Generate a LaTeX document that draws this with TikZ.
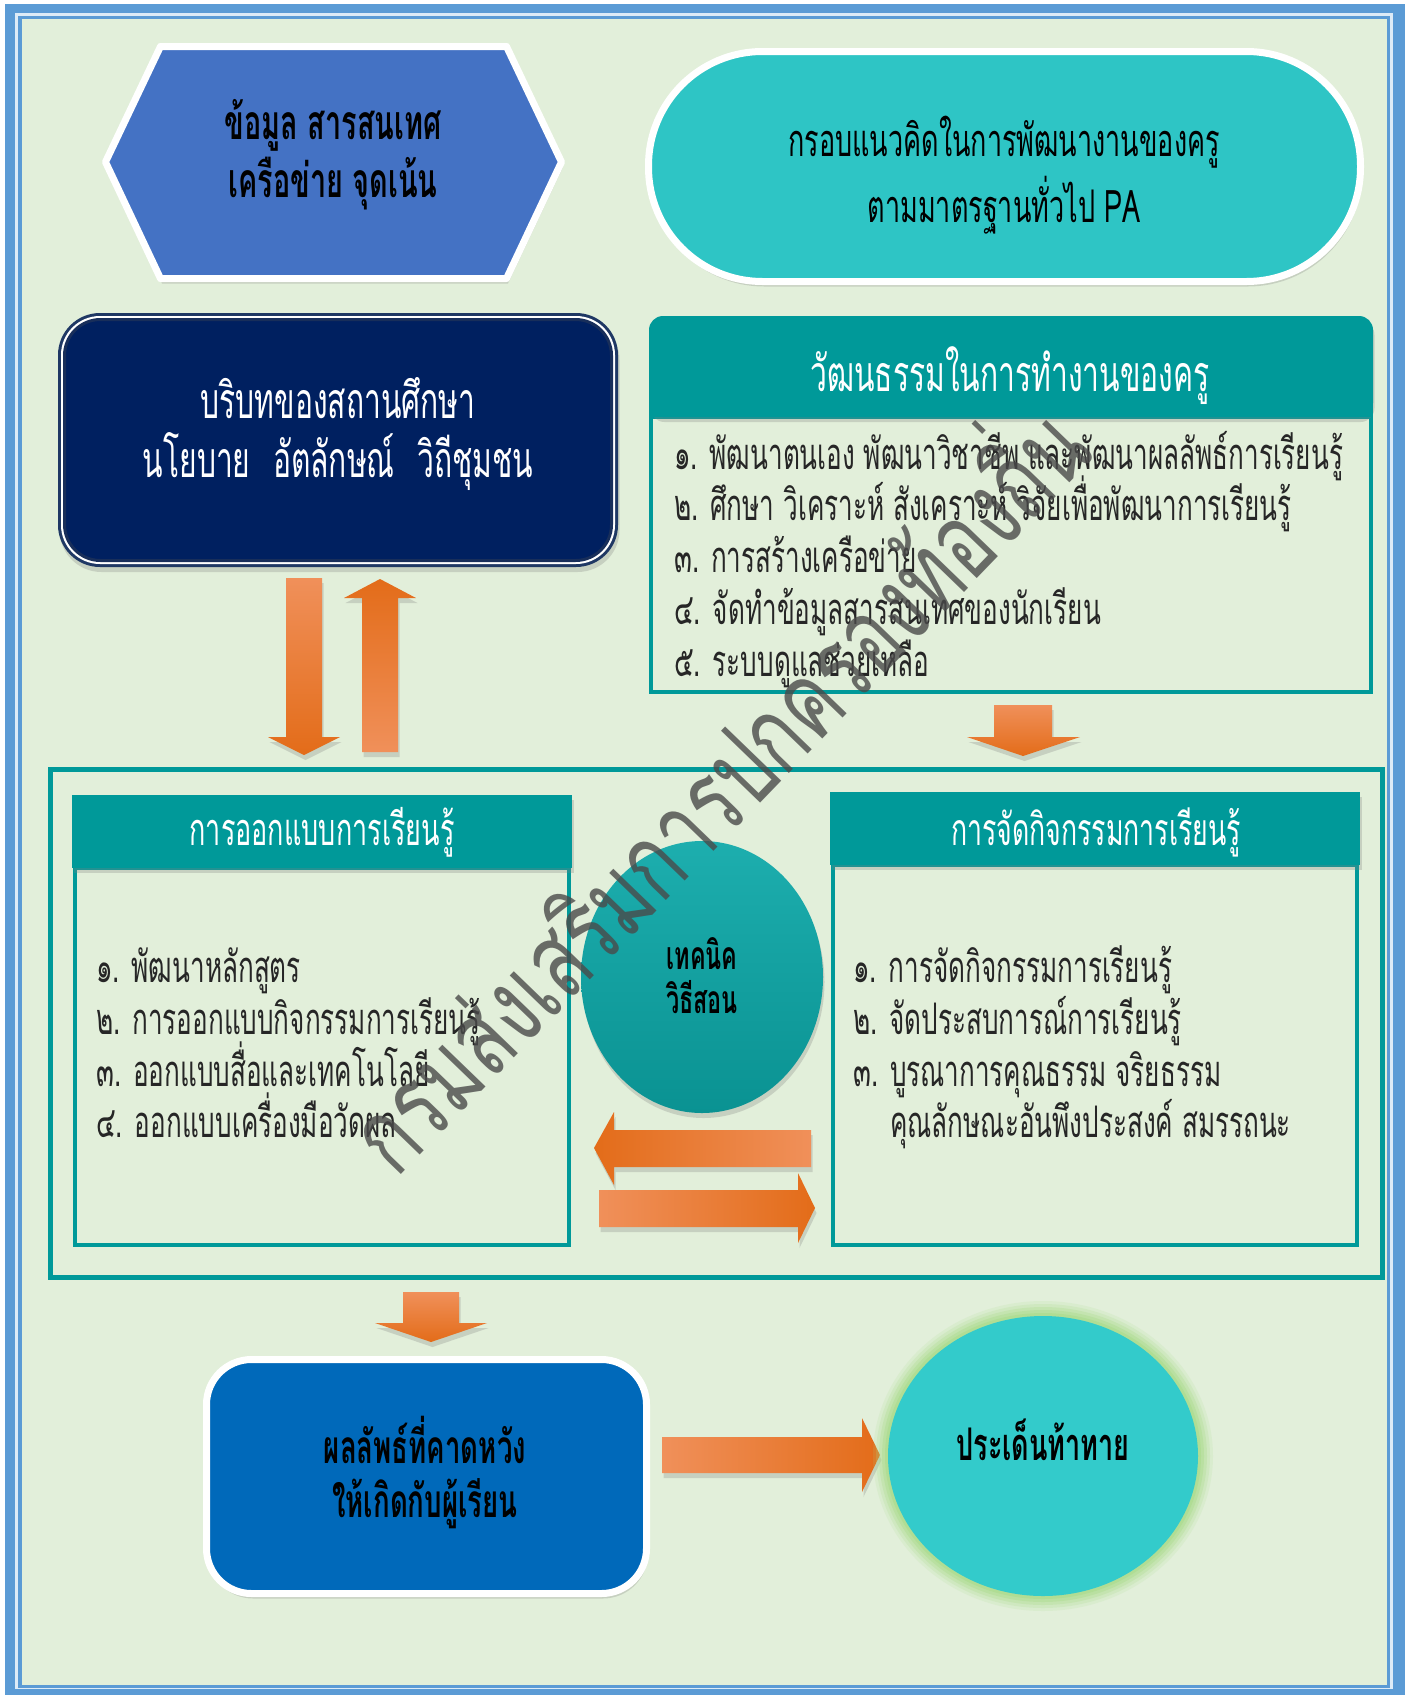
\documentclass[tikz,border=0pt]{standalone}
\usepackage{fontspec}
\setmainfont{Loma}[Script=Thai, FakeStretch=0.6]
\newfontfamily\wmfont{Loma}[Script=Thai, FakeStretch=0.7]
\usetikzlibrary{shadows}
\definecolor{frameblue}{HTML}{5B9BD5}
\definecolor{framepale}{HTML}{DDEBF7}
\definecolor{bgc}{HTML}{E2EFDA}
\definecolor{hexblue}{HTML}{4472C4}
\definecolor{turq}{HTML}{2EC5C5}
\definecolor{navy}{HTML}{002060}
\definecolor{navyrim}{HTML}{1F3864}
\definecolor{tealbox}{HTML}{009999}
\definecolor{orlight}{HTML}{F0905A}
\definecolor{ormid}{HTML}{F58025}
\definecolor{ordark}{HTML}{E36C19}
\definecolor{circteal}{HTML}{0E9E9E}
\definecolor{circtop}{HTML}{1DAEAE}
\definecolor{resblue}{HTML}{0069BA}
\definecolor{ellturq}{HTML}{33CBCB}
\definecolor{glow}{HTML}{A9DB8A}
\definecolor{txt}{HTML}{262626}
\definecolor{wmgray}{HTML}{4A4A4A}
\tikzset{
  shad/.style={drop shadow={shadow xshift=1.5pt, shadow yshift=-5pt, opacity=0.28}},
  tl/.style={inner sep=0pt, anchor=base},
  tw/.style={inner sep=0pt, anchor=base west, text=txt, font=\fontsize{43.5}{48}\selectfont},
  arrowdown/.style={shad, top color=orlight, middle color=ormid, bottom color=ordark},
  arrowup/.style={shad, top color=ordark, middle color=ormid, bottom color=orlight},
  arrowleft/.style={shad, left color=ordark, middle color=ormid, right color=orlight},
  arrowright/.style={shad, left color=orlight, middle color=ormid, right color=ordark},
  bodybox/.style={draw=tealbox, line width=4pt},
}
\begin{document}
\begin{tikzpicture}[x=1pt, y=-1pt]
\useasboundingbox (0,0) rectangle (1409,1695);
% page frame
\fill[white] (0,0) rectangle (1409,1695);
\fill[frameblue] (5,4) rectangle (1405,1695);
\fill[framepale] (15,13) rectangle (1393,1689);
\fill[frameblue] (18,16) rectangle (1390,1688);
\fill[bgc] (22,19) rectangle (1387,1685);

% hexagon
\path[shad, draw=white, line width=7pt, fill=hexblue, line join=round]
  (105.5,162) -- (160.5,46.5) -- (506.5,46.5) -- (561.5,162) -- (506.5,278.5) -- (160.5,278.5) -- cycle;
\node[tl, font=\bfseries\fontsize{48}{52}\selectfont] (hex1) at (333,139) {ข้อมูล สารสนเทศ};
\node[tl, font=\bfseries\fontsize{48}{52}\selectfont] (hex2) at (333,197) {เครือข่าย จุดเน้น};

% stadium
\path[shad, draw=white, line width=7pt, fill=turq, rounded corners=114pt]
  (648.5,51.5) rectangle (1360.5,281.5);
\node[tl, font=\fontsize{45}{50}\selectfont] (pa1) at (1004,156) {กรอบแนวคิดในการพัฒนางานของครู};
\node[tl, font=\fontsize{45}{50}\selectfont] (pa2) at (1004,222) {ตามมาตรฐานทั่วไป PA};

% navy box
\path[shad, fill=navyrim, rounded corners=42pt] (58,313) rectangle (618,567);
\fill[white, rounded corners=39pt] (61,316) rectangle (615,564);
\draw[fill=navy, draw={rgb,255:red,24;green,46;blue,90}, line width=3pt, rounded corners=36pt] (64.5,319.5) rectangle (611.5,560.5);
\node[tl, text=white, font=\fontsize{50}{54}\selectfont] (ctx1) at (338,418) {บริบทของสถานศึกษา};
\node[tl, text=white, font=\fontsize{50}{54}\selectfont] (ctx2) at (338,477) {นโยบาย\hspace{0.45em}อัตลักษณ์\hspace{0.45em}วิถีชุมชน};

% culture box
\draw[bodybox] (651,417) rectangle (1371,692);
\path[shad, fill=tealbox, rounded corners=14pt] (649,316) rectangle (1373,417);
\fill[tealbox] (649,380) rectangle (1373,417);
\node[tl, text=white, font=\fontsize{50}{54}\selectfont] (cul) at (1010,391) {วัฒนธรรมในการทำงานของครู};
\node[tw] (cul1) at (674,469) {๑. พัฒนาตนเอง พัฒนาวิชาชีพ และพัฒนาผลลัพธ์การเรียนรู้};
\node[tw] (cul2) at (674,520) {๒. ศึกษา วิเคราะห์ สังเคราะห์ วิจัยเพื่อพัฒนาการเรียนรู้};
\node[tw] (cul3) at (674,572) {๓. การสร้างเครือข่าย};
\node[tw] (cul4) at (674,624) {๔. จัดทำข้อมูลสารสนเทศของนักเรียน};
\node[tw] (cul5) at (674,676) {๕. ระบบดูแลช่วยเหลือ};

% arrows between top and middle
\path[arrowdown] (286,578) -- (322,578) -- (322,737) -- (340,737) -- (304,755) -- (268,737) -- (286,737) -- cycle;
\path[arrowup] (362,752) -- (398,752) -- (398,598) -- (416,598) -- (380,579) -- (344,598) -- (362,598) -- cycle;
\path[arrowdown] (994,705) -- (1052,705) -- (1052,737) -- (1080,737) -- (1023,756) -- (967,737) -- (994,737) -- cycle;

% big frame
\draw[tealbox, line width=5pt] (50,769) rectangle (1382,1277);

% left box
\draw[bodybox] (75,868) rectangle (569,1245);
\path[shad, fill=tealbox] (72,795) rectangle (572,868);
\node[tl, text=white, font=\fontsize{45}{50}\selectfont] (des) at (322,845) {การออกแบบการเรียนรู้};
\node[tw] (des1) at (96,982) {๑. พัฒนาหลักสูตร};
\node[tw] (des2) at (96,1034) {๒. การออกแบบกิจกรรมการเรียนรู้};
\node[tw] (des3) at (96,1086) {๓. ออกแบบสื่อและเทคโนโลยี};
\node[tw] (des4) at (96,1137) {๔. ออกแบบเครื่องมือวัดผล};

% right box
\draw[bodybox] (833,865) rectangle (1357,1245);
\path[shad, fill=tealbox] (830,792) rectangle (1360,865);
\node[tl, text=white, font=\fontsize{44.5}{50}\selectfont] (act) at (1096,845) {การจัดกิจกรรมการเรียนรู้};
\node[tw] (act1) at (853,982) {๑. การจัดกิจกรรมการเรียนรู้};
\node[tw] (act2) at (853,1034) {๒. จัดประสบการณ์การเรียนรู้};
\node[tw] (act3) at (853,1086) {๓. บูรณาการคุณธรรม จริยธรรม};
\node[tw] (act4) at (890,1137) {คุณลักษณะอันพึงประสงค์ สมรรถนะ};

% technique circle
\path[shad, top color=circtop, middle color=circteal, bottom color={rgb,255:red,10;green,146;blue,146}]
  (702,977) ellipse [x radius=121, y radius=136];
\node[tl, font=\bfseries\fontsize{39}{42}\selectfont] (tec1) at (702,969) {เทคนิค};
\node[tl, font=\bfseries\fontsize{39}{42}\selectfont] (tec2) at (702,1013) {วิธีสอน};

% two-way arrows
\path[arrowleft] (811,1130) -- (614,1130) -- (614,1112) -- (594,1148) -- (614,1185) -- (614,1167) -- (811,1167) -- cycle;
\path[arrowright] (599,1190) -- (798,1190) -- (798,1173) -- (815,1208) -- (798,1243) -- (798,1227) -- (599,1227) -- cycle;

% bottom arrow
\path[arrowdown] (403,1292) -- (459,1292) -- (459,1323) -- (487,1323) -- (431,1342) -- (375,1323) -- (403,1323) -- cycle;

% result box
\path[shad, draw=white, line width=7pt, fill=resblue, rounded corners=45pt]
  (206.5,1359.5) rectangle (646.5,1593.5);
\node[tl, font=\bfseries\fontsize{46}{50}\selectfont] (res1) at (425,1463) {ผลลัพธ์ที่คาดหวัง};
\node[tl, font=\bfseries\fontsize{46}{50}\selectfont] (res2) at (425,1517) {ให้เกิดกับผู้เรียน};

% arrow to challenge
\path[arrowright] (662,1437) -- (862,1437) -- (862,1418) -- (880,1455) -- (862,1492) -- (862,1473) -- (662,1473) -- cycle;

% challenge ellipse with soft glow
\foreach \g/\o in {15/0.14, 12/0.2, 9/0.28, 6/0.38, 3/0.55}
  \fill[glow, opacity=\o] (1043,1456) ellipse [x radius=155+\g, y radius=140+\g];
\fill[ellturq] (1043,1456) ellipse [x radius=155, y radius=140];
\node[tl, font=\bfseries\fontsize{45}{50}\selectfont] (chal) at (1043,1460) {ประเด็นท้าทาย};

% watermark
\node[rotate=46, text=wmgray, opacity=0.8, inner sep=0pt, font=\wmfont\fontsize{108}{115}\selectfont] (wm) at (707,779) {กรมส่งเสริมการปกครองท้องถิ่น};
\end{tikzpicture}
\end{document}
